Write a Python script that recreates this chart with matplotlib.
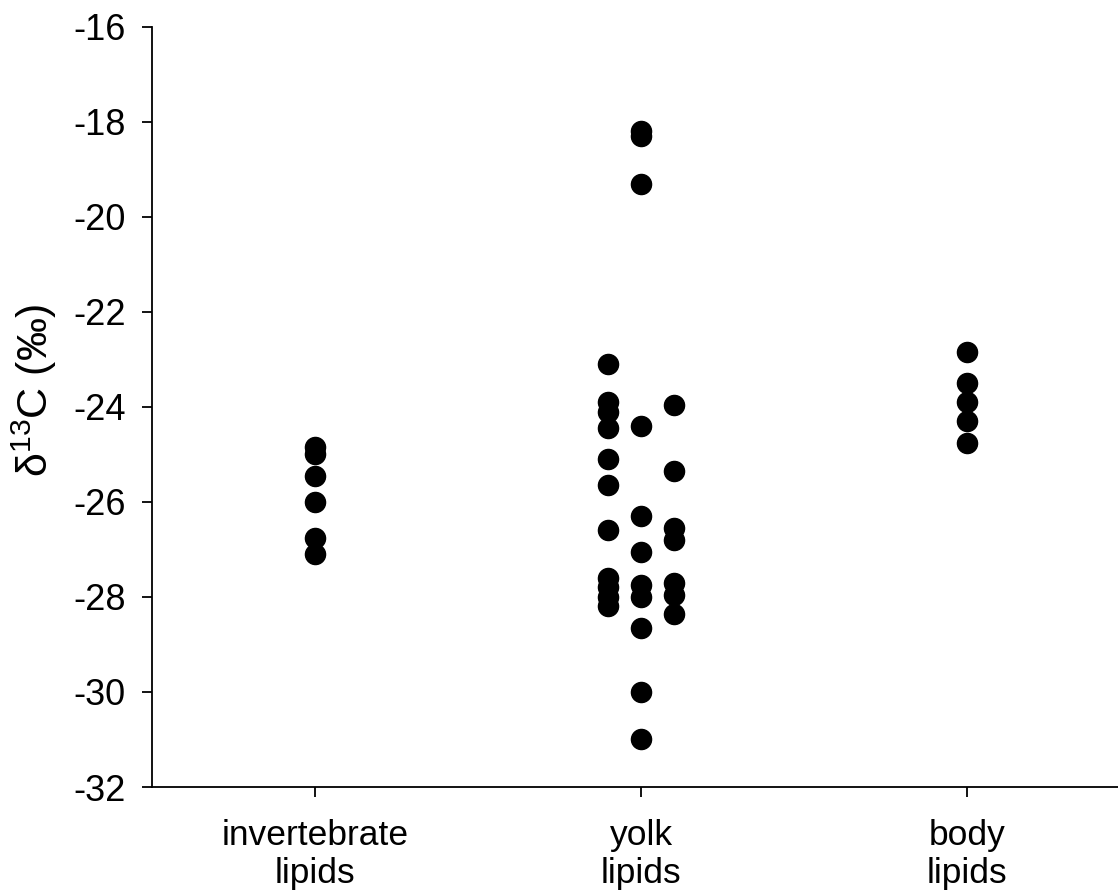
import matplotlib.pyplot as plt

plt.rcParams['font.family'] = ['Liberation Sans', 'DejaVu Sans']
plt.rcParams['mathtext.fontset'] = 'custom'
plt.rcParams['mathtext.rm'] = 'Liberation Sans'
plt.rcParams['axes.unicode_minus'] = False

# d13C values per lipid source
categories = ['invertebrate\nlipids', 'yolk\nlipids', 'body\nlipids']
invertebrate = [-24.85, -25.0, -25.45, -26.0, -26.75, -27.1]
yolk_left = [-23.1, -23.9, -24.1, -24.45, -25.1, -25.65, -26.6,
             -27.6, -27.8, -28.0, -28.2]
yolk_mid = [-18.2, -18.3, -19.3, -24.4, -26.3, -27.05, -27.75, -28.0,
            -28.65, -30.0, -31.0]
yolk_right = [-23.95, -25.35, -26.55, -26.8, -27.7, -27.95, -28.35]
body = [-22.85, -23.5, -23.9, -24.3, -24.75]

fig = plt.figure(figsize=(11.18, 8.93), dpi=100)
ax = fig.add_axes([0.136, 0.1187, 0.8748, 0.8511])

size = 210
groups = [
    (1.0, invertebrate),
    (1.9, yolk_left),
    (2.0, yolk_mid),
    (2.1, yolk_right),
    (3.0, body),
]
for xpos, vals in groups:
    ax.scatter([xpos] * len(vals), vals, s=size, color='black', zorder=3)

ax.set_xlim(0.5, 3.5)
ax.set_ylim(-32, -16)
ax.set_yticks(range(-32, -15, 2))
ax.set_xticks([1, 2, 3])
ax.set_xticklabels(categories, fontsize=25.5, linespacing=1.2)
ax.tick_params(axis='y', labelsize=26, length=7, width=1.3, direction='out', pad=12)
ax.tick_params(axis='x', length=7, width=1.3, direction='out', pad=16)

ax.spines['top'].set_visible(False)
ax.spines['right'].set_visible(False)
for side in ['left', 'bottom']:
    ax.spines[side].set_linewidth(1.3)

ax.set_ylabel(r'$\mathregular{\delta^{13}}$C (‰)', fontsize=31)
ax.yaxis.set_label_coords(-0.095, 0.522)

fig.savefig('out.png', dpi=100)
